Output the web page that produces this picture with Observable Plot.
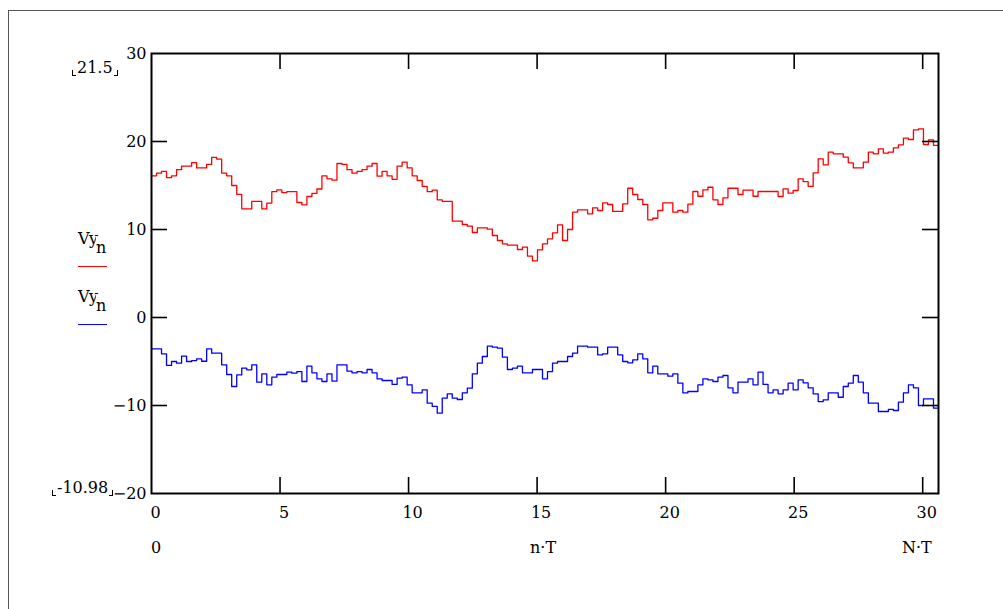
<!DOCTYPE html>
<html>
<head>
<meta charset="utf-8">
<script src="https://cdn.jsdelivr.net/npm/d3@7"></script>
<script src="https://cdn.jsdelivr.net/npm/@observablehq/plot@0.6"></script>
<style>
  html, body { margin: 0; padding: 0; background: #fff; }
  #wrap { position: relative; width: 1003px; height: 609px; overflow: hidden; font-family: "DejaVu Serif", "Liberation Serif", "Noto Serif", Tinos, serif; color: #000; }
  #border { position: absolute; left: 8px; top: 10px; width: 1010px; height: 620px; border-top: 1.5px solid #555; border-left: 1.5px solid #555; }
  #chart { position: absolute; left: 0; top: 0; }
  .lbl { position: absolute; font-size: 16px; line-height: 1; white-space: nowrap; }
  .br { display: inline-block; width: 3px; height: 5px; border-bottom: 1px solid #000; vertical-align: -3px; }
  .brl { border-left: 1px solid #000; margin-right: 1px; }
  .brr { border-right: 1px solid #000; margin-left: 1px; }
  .sub { position: relative; top: 9px; background: #fff; margin-left: -2px; padding-top: 2px; }
  .key { position: absolute; height: 0; width: 29px; border-top: 1.2px solid; }
</style>
</head>
<body>
<div id="wrap">
  <div id="border"></div>
  <div id="chart"></div>
</div>
<script>
// ---- data ----
const T = 0.195; // step n·T
const xTicks = [0, 5, 10, 15, 20, 25, 30];
const yTicks = [-20, -10, 0, 10, 20, 30];
const innerYTicks = [-10, 0, 10, 20];
const innerXTicks = [5, 10, 15, 20, 25, 30];
const seriesColors = ["#ff0000", "#0000ff"];
const yMaxLabel = "21.5";
const yMinLabel = "-10.98";
const redV = [
  16.1, 16.4, 16.6, 15.9, 16.1, 16.8, 17.2, 17.2, 17.6, 17.0,
  17.0, 17.4, 18.2, 18.0, 16.4, 16.1, 15.0, 14.0, 12.35, 12.35,
  13.2, 13.2, 12.35, 13.0, 14.3, 14.5, 14.2, 14.3, 14.3, 13.07,
  12.8, 13.75, 14.1, 14.6, 16.1, 15.76, 15.6, 17.5, 17.4, 16.8,
  16.4, 16.6, 16.8, 17.2, 17.5, 16.06, 16.6, 16.1, 15.7, 17.2,
  17.65, 17.0, 16.1, 15.57, 14.9, 14.3, 14.47, 13.37, 13.2, 13.2,
  10.95, 10.95, 10.57, 10.38, 9.66, 10.19, 10.19, 10.04, 9.32, 8.75,
  8.37, 8.22, 8.22, 7.73, 7.99, 6.97, 6.44, 7.69, 8.37, 8.94,
  9.62, 10.53, 8.75, 10.0, 11.97, 12.24, 12.24, 11.78, 12.46, 12.16,
  13.03, 12.84, 12.05, 12.05, 12.92, 14.69, 13.98, 13.41, 12.84, 11.1,
  11.28, 12.16, 13.03, 13.03, 11.97, 12.16, 11.97, 12.88, 14.32, 13.78,
  14.5, 14.8, 13.37, 12.84, 13.6, 14.69, 14.69, 13.98, 14.47, 14.47,
  13.78, 14.32, 14.32, 14.32, 14.32, 13.75, 14.62, 14.13, 14.43, 15.76,
  15.45, 14.89, 16.44, 18.03, 17.35, 18.79, 18.6, 18.6, 18.22, 17.58,
  17.01, 17.01, 17.65, 18.79, 18.6, 19.17, 18.67, 18.79, 19.28, 19.62,
  20.38, 20.23, 21.33, 21.44, 19.66, 20.19, 19.55
];
const blueV = [
  -3.56, -3.56, -4.13, -5.45, -5.0, -5.19, -4.4, -5.0, -4.89, -4.7,
  -4.97, -3.56, -4.05, -4.05, -5.38, -6.48, -7.84, -6.52, -5.76, -5.95,
  -5.38, -7.35, -6.4, -7.65, -6.78, -6.48, -6.48, -6.21, -6.33, -6.14,
  -7.27, -5.53, -6.29, -6.97, -7.27, -6.4, -7.23, -5.38, -5.38, -6.1,
  -6.29, -6.14, -6.29, -5.91, -6.29, -6.97, -7.16, -7.16, -7.61, -6.9,
  -6.78, -7.65, -8.56, -8.56, -8.22, -9.74, -10.11, -10.87, -9.17, -8.67,
  -9.17, -9.32, -8.56, -8.03, -6.4, -5.19, -4.43, -3.26, -3.37, -3.49,
  -4.51, -5.91, -5.76, -5.53, -6.29, -6.29, -5.91, -5.91, -6.97, -6.14,
  -5.19, -5.0, -5.0, -4.43, -4.05, -3.26, -3.26, -3.37, -3.37, -4.24,
  -4.13, -3.37, -3.37, -4.24, -5.0, -5.15, -4.81, -4.13, -4.7, -6.29,
  -5.53, -6.4, -6.4, -6.67, -6.4, -7.46, -8.56, -8.41, -8.41, -7.65,
  -6.97, -7.08, -7.27, -6.78, -6.59, -7.99, -8.56, -7.35, -7.35, -6.97,
  -7.65, -6.21, -7.61, -8.56, -8.22, -8.67, -8.22, -7.46, -8.22, -7.08,
  -7.42, -7.99, -8.67, -9.55, -9.36, -8.56, -8.56, -9.06, -7.84, -7.46,
  -6.59, -7.35, -8.56, -9.74, -9.74, -10.68, -10.68, -10.45, -10.57, -9.62,
  -8.56, -7.65, -7.99, -10.0, -9.24, -9.24, -10.3
];

// ---- build step tables (last value held until N·T) ----
function steps(vals) {
  const pts = vals.map((v, i) => ({x: i * T, y: v}));
  pts.push({x: vals.length * T, y: vals[vals.length - 1]});
  return pts;
}
const red = steps(redV), blue = steps(blueV);
const N = redV.length;

const W = 1003, H = 609;
const mL = 151, mT = 53, mR = 65, mB = 116;
const fw = W - mL - mR, fh = H - mT - mB;
const tk = 16;
const serif = '"DejaVu Serif", "Liberation Serif", "Noto Serif", Tinos, serif';

const plot = Plot.plot({
  width: W, height: H,
  marginLeft: mL, marginTop: mT, marginRight: mR, marginBottom: mB,
  style: {fontFamily: serif, fontSize: "16px", background: "transparent", color: "#000"},
  x: {domain: [0, N * T]},
  y: {domain: [-20, 30]},
  marks: [
    Plot.line(red, {x: "x", y: "y", curve: "step-after", stroke: seriesColors[0], strokeWidth: 1.3}),
    Plot.line(blue, {x: "x", y: "y", curve: "step-after", stroke: seriesColors[1], strokeWidth: 1.3}),
    Plot.tickY(innerYTicks, {y: d => d, insetRight: fw - tk, stroke: "#000", strokeWidth: 1.6}),
    Plot.tickY(innerYTicks, {y: d => d, insetLeft: fw - tk, stroke: "#000", strokeWidth: 1.6}),
    Plot.tickX(innerXTicks, {x: d => d, insetTop: fh - tk, stroke: "#000", strokeWidth: 1.6}),
    Plot.tickX(innerXTicks, {x: d => d, insetBottom: fh - tk, stroke: "#000", strokeWidth: 1.6}),
    Plot.frame({stroke: "#000", strokeWidth: 2}),
    Plot.axisY(yTicks, {anchor: "left", tickSize: 0, tickPadding: 5, label: null, fontFamily: serif, tickFormat: d => d < 0 ? "\u2212" + Math.abs(d) : String(d)}),
    Plot.axisX(xTicks, {anchor: "bottom", tickSize: 0, tickPadding: 13, dx: 4, label: null, fontFamily: serif, tickFormat: d => String(d)})
  ]
});
document.getElementById("chart").appendChild(plot);

// ---- overlay texts ----
const wrap = document.getElementById("wrap");
function addLabel(html, css) {
  const d = document.createElement("div");
  d.className = "lbl";
  d.innerHTML = html;
  Object.assign(d.style, css);
  wrap.appendChild(d);
  return d;
}
addLabel('<span class="br brl"></span>' + yMaxLabel + '<span class="br brr"></span>', {left: "72px", top: "60px"});
addLabel('<span class="br brl"></span>' + yMinLabel + '<span class="br brr"></span>', {left: "52px", top: "480px"});
addLabel("0", {left: "151px", top: "540px"});
addLabel("n\u00B7T", {left: "530px", top: "540px"});
addLabel("N\u00B7T", {left: "902px", top: "540px"});
// legend
addLabel("Vy<span class=\"sub\">n</span>", {left: "78px", top: "231px"});
addLabel("Vy<span class=\"sub\">n</span>", {left: "78px", top: "289px"});
const k1 = document.createElement("div"); k1.className = "key";
Object.assign(k1.style, {left: "78px", top: "266px", borderColor: seriesColors[0]}); wrap.appendChild(k1);
const k2 = document.createElement("div"); k2.className = "key";
Object.assign(k2.style, {left: "78px", top: "324px", borderColor: seriesColors[1]}); wrap.appendChild(k2);
</script>
</body>
</html>
